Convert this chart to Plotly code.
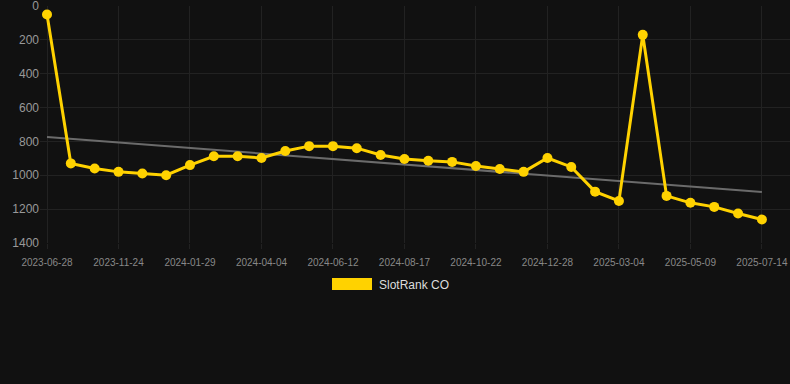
import plotly.graph_objects as go

dates = [
    "2023-06-28", "2023-10-11", "2023-11-02", "2023-11-24", "2023-12-16", "2024-01-07",
    "2024-01-29", "2024-02-20", "2024-03-13", "2024-04-04", "2024-04-27", "2024-05-20",
    "2024-06-12", "2024-07-04", "2024-07-26", "2024-08-17", "2024-09-08", "2024-09-30",
    "2024-10-22", "2024-11-13", "2024-12-05", "2024-12-28", "2025-01-19", "2025-02-10",
    "2025-03-04", "2025-03-26", "2025-04-17", "2025-05-09", "2025-05-31", "2025-06-22",
    "2025-07-14",
]
ranks = [
    50, 930, 960, 980, 990, 1000,
    940, 888, 888, 898, 857, 828,
    828, 840, 880, 904, 914, 921,
    945, 963, 980, 898, 951, 1097,
    1152, 170, 1122, 1163, 1187, 1226,
    1262,
]
# trend line end values
trend_dates = ["2023-06-28", "2025-07-14"]
trend_values = [774, 1099]
tick_labels = ["2023-06-28", "2023-11-24", "2024-01-29", "2024-04-04", "2024-06-12",
               "2024-08-17", "2024-10-22", "2024-12-28", "2025-03-04", "2025-05-09",
               "2025-07-14"]
y_ticks = [0, 200, 400, 600, 800, 1000, 1200, 1400]
series_name = "SlotRank CO"

GOLD = "#FFD200"
GRID = "#222222"
fig = go.Figure()
fig.add_trace(go.Scatter(x=trend_dates, y=trend_values, mode="lines",
                         line=dict(color="#6b6b6b", width=2), showlegend=False,
                         hoverinfo="skip"))
fig.add_trace(go.Scatter(x=dates, y=ranks, mode="lines+markers", name=series_name,
                         line=dict(color=GOLD, width=3),
                         marker=dict(color=GOLD, size=10), showlegend=False))

L, R, T, B = 40, 0, 6, 141
W, H = 790, 384
pw, ph = W - L - R, H - T - B
step = 23.83  # pixels per category

def px_x(p):
    return (p - L) / pw

def px_y(p):
    return (H - B - p) / ph

fig.add_shape(type="rect", xref="paper", yref="paper",
              x0=px_x(332), x1=px_x(372), y0=px_y(290), y1=px_y(278),
              fillcolor=GOLD, line=dict(width=0))
fig.add_annotation(xref="paper", yref="paper", x=px_x(377), y=px_y(284.5),
                   xanchor="left", yanchor="middle", showarrow=False,
                   text=series_name, font=dict(size=12, color="#dddddd"))

x_min = -7 / step
x_max = x_min + pw / step

fig.update_layout(
    width=W, height=H,
    margin=dict(l=L, r=R, t=T, b=B, autoexpand=False),
    paper_bgcolor="#111111", plot_bgcolor="#111111",
    font=dict(family="Liberation Sans, Arial, sans-serif"),
    showlegend=False,
)
fig.update_xaxes(type="category", categoryorder="array", categoryarray=dates,
                 range=[x_min, x_max], automargin=False,
                 tickmode="array", tickvals=tick_labels, ticktext=tick_labels,
                 showgrid=True, gridcolor=GRID, gridwidth=1,
                 zeroline=False, showline=False,
                 ticks="outside", ticklen=5, tickcolor=GRID, tickwidth=1,
                 ticklabelstandoff=5, ticklabeloverflow="allow",
                 tickfont=dict(size=10, color="#888888"))
fig.update_yaxes(range=[1400.5, -0.5], tickmode="array", tickvals=y_ticks,
                 automargin=False,
                 showgrid=True, gridcolor=GRID, gridwidth=1,
                 zeroline=False, showline=False, ticks="",
                 ticklabeloverflow="allow",
                 tickfont=dict(size=12, color="#999999"))

fig.write_html("out.html", config={"displayModeBar": False}, post_script=[
    "document.body.style.margin='0';document.body.style.background='#111111';"
])
